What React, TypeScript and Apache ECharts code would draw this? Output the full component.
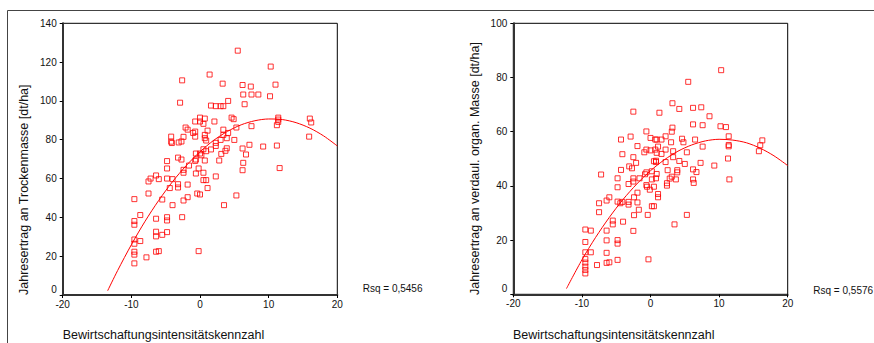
import React, { useEffect, useRef } from "react";
import * as echarts from "echarts";

const FONT = "'Liberation Sans', Arial, sans-serif";

const leftPoints: [number, number][] = [
  [-9.56, 49.4], [-9.56, 38.1], [-9.56, 36.2], [-9.56, 28.6], [-9.56, 26.4], [-9.56, 22.3], [-9.56, 20.8], [-9.56, 16.3],
  [-8.7, 41.2], [-8.7, 27.8], [-7.8, 19.4], [-7.5, 52.3], [-7.5, 58.5], [-7.2, 60.0],
  [-6.4, 61.6], [-6.4, 39.3], [-6.4, 32.6], [-6.4, 30.2], [-6.4, 22.3], [-6.0, 59.7], [-6.0, 22.6],
  [-5.5, 49.2], [-5.5, 31.0], [-4.8, 69.0], [-4.8, 65.2], [-4.8, 60.0], [-4.8, 40.1], [-4.8, 38.4], [-4.8, 32.4],
  [-4.4, 55.1], [-4.2, 81.6], [-4.2, 79.0], [-4.1, 78.3], [-4.0, 59.7], [-4.0, 46.3],
  [-3.2, 70.8], [-3.2, 57.1], [-3.2, 55.4], [-3.1, 78.6], [-2.9, 99.1], [-2.7, 79.1], [-2.7, 69.8],
  [-2.6, 110.6], [-2.6, 40.1], [-2.4, 81.5], [-2.4, 64.5], [-2.4, 63.0], [-2.4, 48.7], [-2.1, 86.3],
  [-1.8, 85.2], [-1.8, 56.9], [-1.8, 50.4], [-1.6, 66.7], [-1.0, 83.5],
  [-0.7, 89.4], [-0.7, 84.2], [-0.7, 81.6], [-0.7, 69.1], [-0.6, 72.9], [-0.6, 69.8], [-0.6, 62.6],
  [-0.4, 52.3], [-0.2, 22.6], [-0.2, 65.2], [0.0, 91.4], [0.0, 89.4], [0.0, 72.9], [0.0, 51.8], [0.2, 72.0],
  [0.5, 88.2], [0.5, 75.1], [0.5, 63.0], [0.5, 59.2], [0.7, 90.9], [0.7, 82.5], [0.7, 80.8], [0.7, 69.3],
  [0.9, 79.6], [0.9, 74.1], [0.9, 59.2], [1.1, 84.7], [1.1, 55.1], [1.4, 113.6], [1.6, 97.6], [1.6, 75.0],
  [2.1, 89.4], [2.3, 97.3], [2.3, 78.4], [2.3, 76.8], [2.3, 61.1], [2.8, 69.3], [3.0, 79.9], [3.0, 97.3],
  [3.1, 72.7], [3.3, 108.9], [3.4, 97.3], [3.4, 85.2], [3.4, 82.5], [3.5, 46.3], [3.7, 74.3],
  [3.9, 80.8], [3.9, 75.6], [4.1, 100.0], [4.1, 83.5], [4.6, 91.4], [4.9, 90.6], [5.0, 79.9],
  [5.3, 86.3], [5.3, 51.3], [5.5, 125.9], [6.2, 108.2], [6.2, 75.5], [6.2, 64.3], [6.3, 103.3], [6.3, 68.1],
  [6.5, 98.3], [6.7, 72.4], [7.2, 77.4], [7.4, 107.4], [7.5, 103.3], [7.5, 87.0], [8.5, 103.3], [9.2, 76.5],
  [10.2, 102.4], [10.3, 117.7], [11.0, 108.4], [11.2, 77.0], [11.2, 87.5], [11.4, 91.4], [11.4, 90.4], [11.4, 89.2],
  [11.6, 65.4], [15.9, 81.6], [16.0, 90.9], [16.2, 88.9],
];

const rightPoints: [number, number][] = [
  [-9.5, 23.9], [-9.5, 19.3], [-9.5, 15.5], [-9.5, 13.0], [-9.5, 11.7], [-9.5, 10.2], [-9.5, 9.0], [-9.5, 7.7],
  [-8.7, 23.5], [-8.7, 15.5], [-7.8, 10.8], [-7.5, 33.6], [-7.5, 30.3], [-7.2, 44.2],
  [-6.4, 34.6], [-6.4, 23.5], [-6.4, 19.9], [-6.4, 15.3], [-6.4, 11.6], [-6.0, 35.8], [-6.0, 11.8],
  [-5.5, 27.2], [-5.5, 25.8], [-4.8, 42.8], [-4.8, 39.5], [-4.8, 34.2], [-4.8, 20.0], [-4.8, 18.7], [-4.8, 12.7],
  [-4.4, 33.6], [-4.3, 57.1], [-4.3, 45.9], [-4.1, 51.7], [-4.1, 34.1], [-4.0, 26.8],
  [-3.2, 40.7], [-3.2, 34.1], [-3.2, 33.1], [-3.1, 47.2], [-2.9, 58.2], [-2.7, 46.5],
  [-2.5, 67.4], [-2.5, 50.6], [-2.5, 42.8], [-2.5, 41.6], [-2.5, 23.4], [-2.4, 35.8], [-2.4, 29.2],
  [-2.1, 48.5], [-1.9, 54.7], [-1.9, 37.5], [-1.9, 33.9], [-1.7, 31.2], [-1.6, 42.8],
  [-0.9, 52.4], [-0.8, 44.3], [-0.6, 60.1], [-0.6, 53.4], [-0.6, 45.0], [-0.6, 40.3], [-0.5, 39.7],
  [-0.4, 29.3], [-0.3, 12.9], [-0.1, 38.6], [0.0, 57.7], [0.0, 53.1], [0.2, 45.4], [0.2, 42.4], [0.2, 32.5],
  [0.5, 49.1], [0.5, 39.7], [0.5, 32.5], [0.7, 57.1], [0.7, 53.4], [0.8, 49.3], [0.8, 48.8], [0.8, 42.8],
  [0.9, 57.1], [0.9, 52.2], [0.9, 44.4], [1.1, 54.5], [1.1, 37.0], [1.1, 35.8], [1.3, 67.0],
  [1.6, 57.1], [1.6, 51.8], [2.2, 58.3], [2.2, 53.4], [2.2, 48.8], [2.4, 41.0], [2.4, 40.1], [2.5, 45.8],
  [2.8, 42.7], [3.0, 56.1], [3.1, 60.0], [3.1, 43.4], [3.2, 70.5], [3.2, 61.5], [3.3, 52.8], [3.3, 50.6],
  [3.5, 25.8], [3.7, 42.4], [3.9, 45.8], [3.9, 45.0], [4.2, 68.4], [4.2, 49.2], [4.6, 57.4], [4.8, 56.1],
  [5.0, 48.1], [5.3, 52.4], [5.3, 29.3], [5.5, 78.4], [6.2, 68.8], [6.2, 62.7], [6.2, 46.1], [6.2, 42.4],
  [6.3, 41.1], [6.5, 57.1], [6.7, 45.1], [7.3, 48.5], [7.4, 69.0], [7.6, 62.4], [7.6, 54.5], [8.6, 65.7],
  [9.3, 47.5], [10.2, 62.0], [10.3, 82.7], [11.0, 61.7], [11.3, 50.1], [11.4, 58.3], [11.4, 55.1], [11.4, 54.6],
  [11.5, 42.4], [15.8, 52.8], [16.0, 55.0], [16.3, 56.8],
];

const leftCurve: [number, number][] = [
  [-13.45, 2.2], [-12, 12.6], [-10, 25.9], [-8, 38.0], [-6, 48.8], [-4, 58.4], [-2, 66.7], [0, 73.8],
  [2, 79.7], [4, 84.3], [6, 87.7], [8, 89.8], [10, 90.7], [12, 90.4], [14, 88.8], [16, 86.0], [18, 82.0], [20, 76.8],
];

const rightCurve: [number, number][] = [
  [-12.25, 2.1], [-10, 12.7], [-8, 21.0], [-6, 28.4], [-4, 35.0], [-2, 40.7], [0, 45.6], [2, 49.6],
  [4, 52.8], [6, 55.1], [8, 56.6], [10, 57.2], [12, 56.9], [14, 55.9], [16, 53.9], [18, 51.1], [20, 47.5],
];

const xRange = [-20, 20];
const leftYMax = 140;
const rightYMax = 100;
const leftYTitle = "Jahresertrag an Trockenmasse [dt/ha]";
const rightYTitle = "Jahresertrag an verdaul. organ. Masse [dt/ha]";
const xTitle = "Bewirtschaftungsintensitätskennzahl";
const leftRsq = "Rsq = 0,5456";
const rightRsq = "Rsq = 0,5576";

function xAxis(gridIndex: number) {
  return {
    type: "value",
    gridIndex,
    min: xRange[0],
    max: xRange[1],
    interval: 10,
    axisLine: { show: true, onZero: false, lineStyle: { color: "#333", width: 2 } },
    axisTick: { show: true, inside: false, length: 3, lineStyle: { color: "#000", width: 1 } },
    axisLabel: { fontSize: 10, color: "#111", fontFamily: FONT, margin: 4 },
    splitLine: { show: false },
  };
}

function yAxis(gridIndex: number, max: number) {
  return {
    type: "value",
    gridIndex,
    min: 0,
    max,
    interval: 20,
    axisLine: { show: true, onZero: false, lineStyle: { color: "#333", width: 2 } },
    axisTick: { show: true, inside: false, length: 3, lineStyle: { color: "#000", width: 1 } },
    axisLabel: {
      fontSize: 10,
      color: "#111",
      fontFamily: FONT,
      margin: 6,
      formatter: (v: number) => (v === 0 ? "{z|0}" : String(v)),
      rich: { z: { fontSize: 10, fontFamily: FONT, color: "#111", padding: [0, 0, 11, 0] } },
    },
    splitLine: { show: false },
  };
}

function scatter(idx: number, data: [number, number][]) {
  return {
    type: "scatter",
    xAxisIndex: idx,
    yAxisIndex: idx,
    data,
    symbol: "rect",
    symbolSize: 5,
    itemStyle: { color: "rgba(255,255,255,0)", borderColor: "#ff0000", borderWidth: 1 },
    silent: true,
    z: 3,
  };
}

function curve(idx: number, data: [number, number][]) {
  return {
    type: "line",
    xAxisIndex: idx,
    yAxisIndex: idx,
    data,
    smooth: 0.3,
    showSymbol: false,
    symbol: "none",
    lineStyle: { color: "#ff0000", width: 1 },
    silent: true,
    z: 2,
  };
}

function text(x: number, y: number, t: string, extra: any = {}) {
  return {
    type: "text",
    x,
    y,
    ...extra,
    style: {
      text: t,
      fill: "#111",
      font: `12.5px ${FONT}`,
      align: "left",
      verticalAlign: "middle",
      ...(extra.style || {}),
    },
  };
}

export default function App() {
  const ref = useRef<HTMLDivElement>(null);
  useEffect(() => {
    if (!ref.current) return;
    const chart = echarts.init(ref.current, undefined, { renderer: "svg" });
    chart.setOption({
      animation: false,
      backgroundColor: "#fff",
      grid: [
        { left: 62.7, top: 23.3, width: 274.6, height: 271.7, show: true, borderColor: "#000", borderWidth: 1, containLabel: false },
        { left: 513.3, top: 23.3, width: 274.4, height: 271, show: true, borderColor: "#000", borderWidth: 1, containLabel: false },
      ],
      xAxis: [xAxis(0), xAxis(1)],
      yAxis: [yAxis(0, leftYMax), yAxis(1, rightYMax)],
      series: [
        curve(0, leftCurve),
        scatter(0, leftPoints),
        curve(1, rightCurve),
        scatter(1, rightPoints),
      ],
      graphic: [
        {
          type: "rect",
          shape: { x: 7.5, y: 10.5, width: 1000, height: 1000 },
          style: { fill: "none", stroke: "#444", lineWidth: 1 },
          silent: true,
          z: -1,
        },
        text(23.5, 295, leftYTitle, { rotation: Math.PI / 2 }),
        text(475, 295, rightYTitle, { rotation: Math.PI / 2 }),
        text(62.7, 335, xTitle),
        text(513, 335, xTitle),
        text(362.7, 288.7, leftRsq, { style: { font: `10px ${FONT}` } }),
        text(813.3, 290, rightRsq, { style: { font: `10px ${FONT}` } }),
      ],
    });
    return () => chart.dispose();
  }, []);
  return (
    <div
      ref={ref}
      style={{ position: "absolute", left: 0, top: 0, width: 874, height: 343 }}
    />
  );
}
